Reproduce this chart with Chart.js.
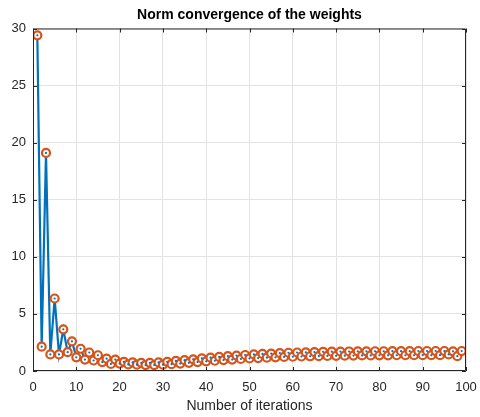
<!DOCTYPE html>
<html lang="en">
<head>
  <meta charset="UTF-8" />
  <title>Norm convergence of the weights</title>
  <style>
    html, body { margin: 0; padding: 0; background: #fff; }
    #wrap { width: 480px; height: 417px; }
  </style>
</head>
<body>
  <div id="wrap"><canvas id="normChart" width="480" height="417"></canvas></div>

  <script src="https://cdn.jsdelivr.net/npm/chart.js"></script>
  <script>
    // iteration number (x) and weight norm at that iteration (y)
    const iterations = [
      1, 2, 3, 4, 5, 6, 7, 8, 9, 10, 11, 12, 13, 14, 15, 16, 17, 18, 19, 20,
      21, 22, 23, 24, 25, 26, 27, 28, 29, 30, 31, 32, 33, 34, 35, 36, 37, 38, 39, 40,
      41, 42, 43, 44, 45, 46, 47, 48, 49, 50, 51, 52, 53, 54, 55, 56, 57, 58, 59, 60,
      61, 62, 63, 64, 65, 66, 67, 68, 69, 70, 71, 72, 73, 74, 75, 76, 77, 78, 79, 80,
      81, 82, 83, 84, 85, 86, 87, 88, 89, 90, 91, 92, 93, 94, 95, 96, 97, 98, 99
    ];
    const normValues = [
      29.4, 2.13, 19.1, 1.45, 6.35, 1.45, 3.65, 1.65, 2.6, 1.2,
      1.95, 1.0, 1.62, 0.92, 1.38, 0.78, 1.08, 0.62, 1.0, 0.65,
      0.8, 0.58, 0.75, 0.55, 0.72, 0.52, 0.72, 0.52, 0.75, 0.55,
      0.8, 0.6, 0.88, 0.65, 0.95, 0.72, 1.02, 0.78, 1.1, 0.85,
      1.17, 0.9, 1.23, 0.96, 1.3, 1.0, 1.35, 1.05, 1.4, 1.1,
      1.45, 1.13, 1.5, 1.17, 1.53, 1.2, 1.57, 1.23, 1.6, 1.25,
      1.62, 1.27, 1.64, 1.29, 1.66, 1.3, 1.68, 1.32, 1.69, 1.33,
      1.7, 1.34, 1.71, 1.35, 1.72, 1.36, 1.72, 1.36, 1.73, 1.37,
      1.73, 1.37, 1.74, 1.38, 1.74, 1.38, 1.74, 1.38, 1.75, 1.39,
      1.75, 1.39, 1.75, 1.39, 1.75, 1.45, 1.72, 1.3, 1.75
    ];
    const xTicks = [0, 10, 20, 30, 40, 50, 60, 70, 80, 90, 100];
    const yTicks = [0, 5, 10, 15, 20, 25, 30];

    const points = iterations.map((it, i) => ({ x: it, y: normValues[i] }));

    const axisColor = '#262626';
    const font = "'Liberation Sans', Arial, Helvetica, sans-serif";

    // MATLAB style box with inward ticks + centered title over the axes
    const matlabBox = {
      id: 'matlabBox',
      afterDraw(chart) {
        const { ctx, chartArea: a, scales } = chart;
        ctx.save();
        ctx.strokeStyle = axisColor;
        ctx.lineWidth = 1;
        ctx.beginPath();
        ctx.rect(a.left + 0.5, a.top + 0.5, a.right - a.left - 1, a.bottom - a.top - 1);
        xTicks.forEach(v => {
          const px = Math.round(scales.x.getPixelForValue(v)) + 0.5;
          ctx.moveTo(px, a.bottom); ctx.lineTo(px, a.bottom - 4);
          ctx.moveTo(px, a.top); ctx.lineTo(px, a.top + 4);
        });
        yTicks.forEach(v => {
          const py = Math.round(scales.y.getPixelForValue(v)) + 0.5;
          ctx.moveTo(a.left, py); ctx.lineTo(a.left + 4, py);
          ctx.moveTo(a.right, py); ctx.lineTo(a.right - 4, py);
        });
        ctx.stroke();

        ctx.fillStyle = '#000';
        ctx.font = 'bold 14px ' + font;
        ctx.textAlign = 'center';
        ctx.textBaseline = 'middle';
        ctx.fillText('Norm convergence of the weights', (a.left + a.right) / 2, 15);
        ctx.restore();
      }
    };

    const ctx = document.getElementById('normChart').getContext('2d');
    new Chart(ctx, {
      type: 'scatter',
      data: {
        datasets: [
          {
            // blue connecting line
            data: points,
            showLine: true,
            borderColor: '#0072BD',
            borderWidth: 2.2,
            pointRadius: 0,
            order: 3
          },
          {
            // orange circle markers
            data: points,
            showLine: false,
            pointRadius: 4,
            pointBorderWidth: 2.2,
            pointBorderColor: '#D95319',
            pointBackgroundColor: '#ffffff',
            order: 2
          },
          {
            // blue dot where the line passes through the marker
            data: points,
            showLine: false,
            pointRadius: 1.1,
            pointBorderWidth: 0,
            pointBackgroundColor: '#0072BD',
            order: 1
          }
        ]
      },
      options: {
        responsive: false,
        animation: false,
        events: [],
        layout: { padding: { top: 28.5, right: 14, left: 0, bottom: 0 } },
        plugins: {
          legend: { display: false },
          tooltip: { enabled: false },
          title: { display: false }
        },
        scales: {
          x: {
            type: 'linear',
            min: 0,
            max: 100,
            afterBuildTicks: s => { s.ticks = xTicks.map(v => ({ value: v })); },
            afterFit: s => { s.height = 46; s.paddingLeft = 0; s.paddingRight = 0; },
            grid: { color: '#e3e3e3', drawTicks: false },
            border: { display: false },
            ticks: { color: axisColor, padding: 9, maxRotation: 0, font: { family: font, size: 13 } },
            title: {
              display: true,
              text: 'Number of iterations',
              color: axisColor,
              padding: { top: 0, bottom: 2 },
              font: { family: font, size: 14 }
            }
          },
          y: {
            type: 'linear',
            min: 0,
            max: 30,
            afterBuildTicks: s => { s.ticks = yTicks.map(v => ({ value: v })); },
            afterFit: s => { s.width = 33; s.paddingTop = 0; s.paddingBottom = 0; },
            grid: { color: '#e3e3e3', drawTicks: false },
            border: { display: false },
            ticks: { color: axisColor, padding: 7, font: { family: font, size: 13 } }
          }
        }
      },
      plugins: [matlabBox]
    });
  </script>
</body>
</html>
